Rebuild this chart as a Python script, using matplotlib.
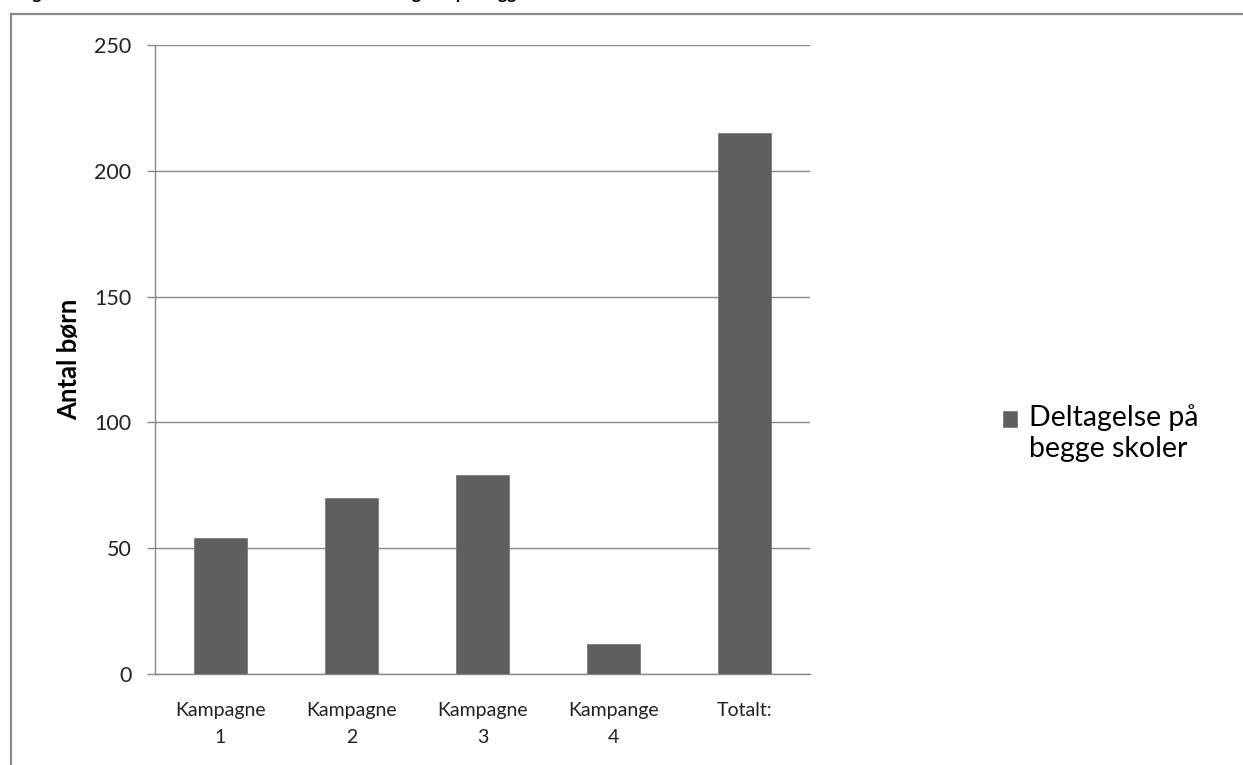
import matplotlib
matplotlib.use("Agg")
import matplotlib.pyplot as plt
from matplotlib.lines import Line2D
from matplotlib.patches import Rectangle
from matplotlib.legend_handler import HandlerPatch, update_from_first_child

categories = ["Kampagne\n1", "Kampagne\n2", "Kampagne\n3", "Kampange\n4", "Totalt:"]
values = [54, 70, 79, 12, 215]
series_name = "Deltagelse på\nbegge skoler"
y_ticks = [0, 50, 100, 150, 200, 250]
y_label = "Antal børn"
title = "Figur 5: Antal børn fra de enkelte runder med deltagelse på begge skoler"

plt.rcParams['font.family'] = ['Lato', 'DejaVu Sans']

W, H = 1243, 765
fig = plt.figure(figsize=(W / 100, H / 100), dpi=100)
fig.patch.set_facecolor("white")

ax = fig.add_axes([155 / W, 1 - 674 / H, (810 - 155) / W, (674 - 45) / H])
gray = "#878787"
bar_color = "#5f5f5f"
x = list(range(len(categories)))
bars = ax.bar(x, values, width=0.4, color=bar_color, edgecolor="#7a7a7a",
              linewidth=0.6, label=series_name, zorder=3)

ax.set_xlim(-0.5, len(categories) - 0.5)
ax.set_ylim(0, 250)
ax.set_yticks(y_ticks)
ax.set_yticklabels([str(v) for v in y_ticks])
ax.set_xticks(x)
ax.set_xticklabels(categories, linespacing=1.75)
ax.yaxis.grid(True, color=gray, linewidth=1.0, zorder=0)
ax.set_axisbelow(True)

for s in ["top", "right"]:
    ax.spines[s].set_visible(False)
for s in ["left", "bottom"]:
    ax.spines[s].set_color(gray)
    ax.spines[s].set_linewidth(1.0)

ax.tick_params(axis="y", length=6, width=1.0, color=gray, pad=11,
               labelsize=15.5, labelcolor="#222222")
ax.tick_params(axis="x", length=0, pad=20, labelsize=14, labelcolor="#222222")
ax.set_ylabel(y_label, fontsize=18.5, fontweight="bold", labelpad=9)


def top_square(legend, orig_handle, xdescent, ydescent, width, height, fontsize):
    # place the legend square beside the first line of the two-line label
    return Rectangle((-xdescent, -ydescent + 10.5), width, height)


leg = ax.legend(loc="center left", bbox_to_anchor=(1003 / W, 1 - 433 / H),
                bbox_transform=fig.transFigure, frameon=False, fontsize=20.5,
                handlelength=0.5, handleheight=0.5, handletextpad=0.4,
                borderpad=0, borderaxespad=0,
                handler_map={bars: HandlerPatch(patch_func=top_square,
                                                update_func=update_from_first_child)})

# figure border (chart area frame, partly cropped)
fig.add_artist(Line2D([11 / W, 1.0], [1 - 14 / H, 1 - 14 / H], transform=fig.transFigure,
                      color="#8a8a8a", linewidth=1.6))
fig.add_artist(Line2D([11 / W, 11 / W], [0, 1 - 14 / H], transform=fig.transFigure,
                      color="#8a8a8a", linewidth=1.6))

# cropped title above the chart (only descenders visible, as in the reference)
fig.text(18 / W, 1.0 + 0.5 / H, title, fontsize=12.5, fontweight="bold",
         va="baseline", ha="left", color="black")

fig.savefig("out.png", dpi=100, facecolor="white")
